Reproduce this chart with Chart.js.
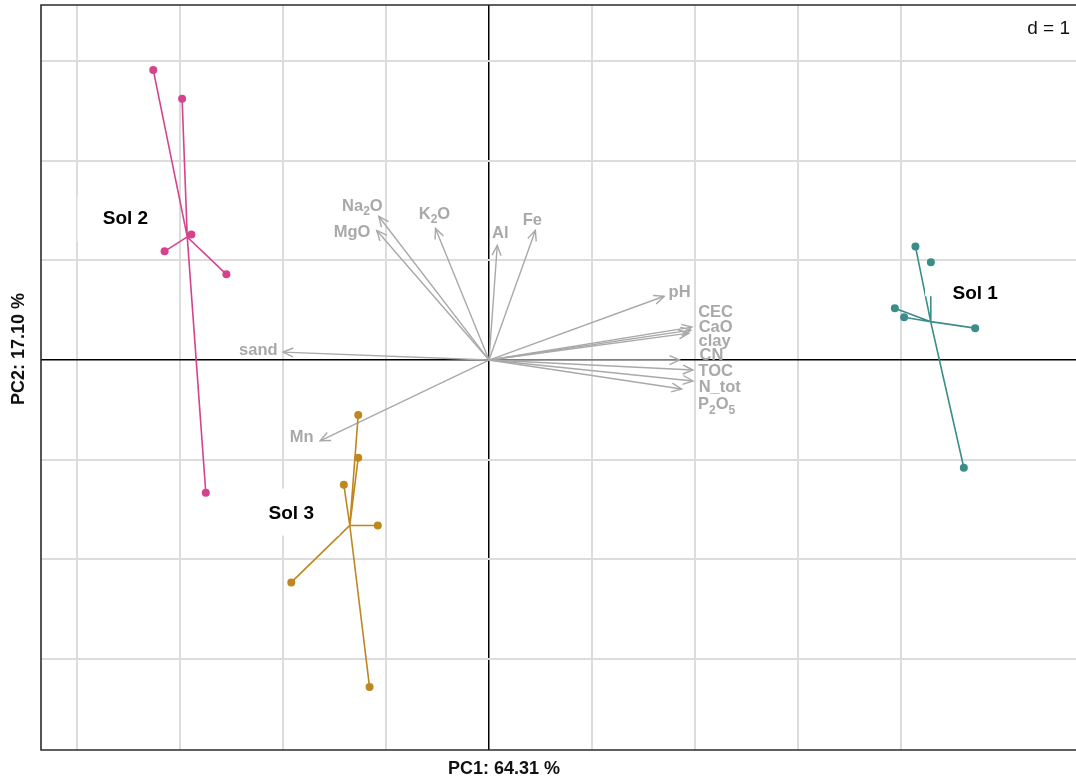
<!DOCTYPE html>
<html>
<head>
<meta charset="utf-8">
<script src="https://cdn.jsdelivr.net/npm/chart.js@4.4.1/dist/chart.umd.min.js"></script>
<style>
  html, body { margin: 0; background: #fff; overflow: hidden; }
</style>
</head>
<body>
<canvas id="pcaChart" width="1080" height="778"></canvas>
<script>
// groups (soil samples), scores on PC1 / PC2
const groups = ["Sol 1", "Sol 2", "Sol 3"];
const sol1X = [4.14, 4.29, 3.94, 4.03, 4.72, 4.61];
const sol1Y = [1.14, 0.98, 0.52, 0.43, 0.32, -1.08];
const sol2X = [-3.26, -2.98, -2.89, -3.15, -2.55, -2.75];
const sol2Y = [2.91, 2.62, 1.26, 1.09, 0.86, -1.33];
const sol3X = [-1.27, -1.27, -1.41, -1.08, -1.92, -1.16];
const sol3Y = [-0.55, -0.98, -1.25, -1.66, -2.23, -3.28];

// variables (arrows)
const varNames = ["sand", "Na_2O", "MgO", "K_2O", "Al", "Fe", "pH", "CEC", "CaO", "clay", "CN", "TOC", "N_tot", "P_2O_5", "Mn"];
const varX = [-2.00, -1.07, -1.09, -0.52, 0.08, 0.45, 1.70, 1.97, 1.96, 1.94, 1.85, 1.98, 1.98, 1.87, -1.64];
const varY = [0.08, 1.44, 1.30, 1.32, 1.15, 1.30, 0.64, 0.33, 0.30, 0.27, 0.00, -0.10, -0.21, -0.29, -0.81];
// where the variable labels sit (data units, after overlap avoidance)
const varLabX = [-2.24, -1.23, -1.33, -0.53, 0.11, 0.42, 1.85, 2.20, 2.20, 2.19, 2.16, 2.20, 2.24, 2.21, -1.82];
const varLabY = [0.10, 1.54, 1.28, 1.46, 1.27, 1.40, 0.68, 0.48, 0.33, 0.19, 0.05, -0.11, -0.27, -0.45, -0.78];

// group label positions (data units)
const groupLabX = [4.72, -3.53, -1.92];
const groupLabY = [0.66, 1.42, -1.54];

// grid lines (d = 1)
const xGrid = [-4, -3, -2, -1, 0, 1, 2, 3, 4];
const yGrid = [-3, -2, -1, 0, 1, 2, 3];

const xTitle = "PC1: 64.31 %";
const yTitle = "PC2: 17.10 %";
const gridNote = "d = 1";

const groupColors = ["#3b8d8a", "#d6438d", "#bf871f"];
// white boxes behind group labels: [left, right, top, bottom] px around text centre
const labelBoxes = [[-50, 26, -28, 2], [-48, 45, -23, 23], [-46, 48, -25, 22]];
const arrowGrey = "#a9a9a9";

const groupX = [sol1X, sol2X, sol3X];
const groupY = [sol1Y, sol2Y, sol3Y];

function mean(a) {
  return a.reduce((s, v) => s + v, 0) / a.length;
}

// star: centroid -> point -> centroid -> point ...
function starData(xs, ys) {
  const cx = mean(xs), cy = mean(ys);
  const pts = [];
  xs.forEach((x, i) => {
    pts.push({ x: cx, y: cy });
    pts.push({ x: x, y: ys[i] });
  });
  return pts;
}

// draws "Na_2O" style text with subscripts, centred at (x, y)
function drawSubText(c, text, x, y, size) {
  let parts = [];
  if (text === "N_tot") {
    parts = [{ t: "N_tot", sub: false }];
  } else {
    const re = /_(\d)/g;
    let last = 0, m;
    while ((m = re.exec(text)) !== null) {
      if (m.index > last) parts.push({ t: text.slice(last, m.index), sub: false });
      parts.push({ t: m[1], sub: true });
      last = m.index + m[0].length;
    }
    if (last < text.length) parts.push({ t: text.slice(last), sub: false });
  }

  const mainFont = "bold " + size + "px 'Liberation Sans', Arial, sans-serif";
  const subFont = "bold " + Math.round(size * 0.72) + "px 'Liberation Sans', Arial, sans-serif";
  let w = 0;
  parts.forEach(p => {
    c.font = p.sub ? subFont : mainFont;
    p.w = c.measureText(p.t).width;
    w += p.w;
  });
  let px = x - w / 2;
  c.textAlign = "left";
  c.textBaseline = "middle";
  parts.forEach(p => {
    c.font = p.sub ? subFont : mainFont;
    c.fillText(p.t, px, p.sub ? y + size * 0.32 : y);
    px += p.w;
  });
}

const biplotPlugin = {
  id: "biplot",
  beforeDatasetsDraw(chart) {
    const c = chart.ctx;
    const xs = chart.scales.x, ys = chart.scales.y;
    const ox = xs.getPixelForValue(0), oy = ys.getPixelForValue(0);
    c.save();
    c.strokeStyle = arrowGrey;
    c.fillStyle = arrowGrey;
    c.lineWidth = 1.4;
    varNames.forEach((name, i) => {
      const tx = xs.getPixelForValue(varX[i]);
      const ty = ys.getPixelForValue(varY[i]);
      const ang = Math.atan2(ty - oy, tx - ox);
      c.beginPath();
      c.moveTo(ox, oy);
      c.lineTo(tx, ty);
      c.stroke();
      const h = 11, sp = 0.42;
      c.beginPath();
      c.moveTo(tx - h * Math.cos(ang - sp), ty - h * Math.sin(ang - sp));
      c.lineTo(tx, ty);
      c.lineTo(tx - h * Math.cos(ang + sp), ty - h * Math.sin(ang + sp));
      c.stroke();
      drawSubText(c, name, xs.getPixelForValue(varLabX[i]), ys.getPixelForValue(varLabY[i]), 16.5);
    });
    c.restore();
  },
  afterDatasetsDraw(chart) {
    const c = chart.ctx;
    const xs = chart.scales.x, ys = chart.scales.y;
    const a = chart.chartArea;
    c.save();
    // group labels on white boxes
    groups.forEach((g, i) => {
      const lx = xs.getPixelForValue(groupLabX[i]);
      const ly = ys.getPixelForValue(groupLabY[i]);
      const b = labelBoxes[i];
      c.fillStyle = "#fff";
      c.fillRect(lx + b[0], ly + b[2], b[1] - b[0], b[3] - b[2]);
      c.fillStyle = "#000";
      c.font = "bold 19px 'Liberation Sans', Arial, sans-serif";
      c.textAlign = "center";
      c.textBaseline = "middle";
      c.fillText(g, lx, ly);
    });
    // d = 1
    c.font = "19px 'Liberation Sans', Arial, sans-serif";
    c.textAlign = "right";
    c.textBaseline = "middle";
    c.fillStyle = "#111";
    c.fillText(gridNote, a.right - 6, a.top + 24);
    // frame (left, top, bottom)
    c.strokeStyle = "#2b2b2b";
    c.lineWidth = 1.6;
    c.beginPath();
    c.moveTo(a.right, a.top);
    c.lineTo(a.left, a.top);
    c.lineTo(a.left, a.bottom);
    c.lineTo(a.right, a.bottom);
    c.stroke();
    // axis titles
    c.fillStyle = "#111";
    c.font = "bold 18px 'Liberation Sans', Arial, sans-serif";
    c.textAlign = "center";
    c.textBaseline = "middle";
    c.fillText(xTitle, 504, 769);
    c.translate(19, 349);
    c.rotate(-Math.PI / 2);
    c.fillText(yTitle, 0, 0);
    c.restore();
  }
};

const gridStyle = {
  drawTicks: false,
  color: c => (c.tick && c.tick.value === 0 ? "#000" : "#dcdcdc"),
  lineWidth: c => (c.tick && c.tick.value === 0 ? 1.5 : 2)
};

const chart = new Chart(document.getElementById("pcaChart").getContext("2d"), {
  type: "scatter",
  data: {
    datasets: groups.map((g, i) => ({
      label: g,
      data: starData(groupX[i], groupY[i]),
      showLine: true,
      borderColor: groupColors[i],
      backgroundColor: groupColors[i],
      borderWidth: 1.6,
      pointRadius: c => (c.dataIndex % 2 ? 4 : 0),
      pointBorderWidth: 0,
      pointHoverRadius: 4
    }))
  },
  options: {
    responsive: false,
    devicePixelRatio: 1,
    animation: false,
    layout: { padding: { left: 41, top: 5, right: 0, bottom: 28 } },
    plugins: {
      legend: { display: false },
      tooltip: { enabled: false }
    },
    scales: {
      x: {
        type: "linear",
        min: -4.35,
        max: 5.699,
        afterBuildTicks: s => { s.ticks = xGrid.map(v => ({ value: v })); },
        ticks: { display: false },
        grid: gridStyle,
        border: { display: false }
      },
      y: {
        type: "linear",
        min: -3.911,
        max: 3.561,
        afterBuildTicks: s => { s.ticks = yGrid.map(v => ({ value: v })); },
        ticks: { display: false },
        grid: gridStyle,
        border: { display: false }
      }
    }
  },
  plugins: [biplotPlugin]
});
</script>
</body>
</html>
